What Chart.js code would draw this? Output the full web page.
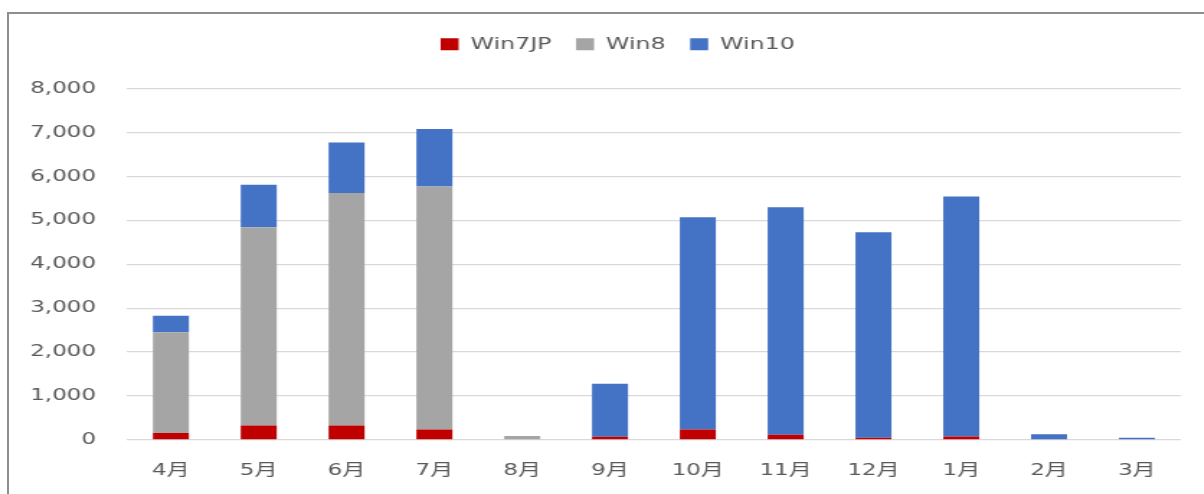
<!DOCTYPE html>
<html>
<head>
<meta charset="utf-8">
<script src="https://cdn.jsdelivr.net/npm/chart.js@4"></script>
<style>
  html, body { margin: 0; padding: 0; background: #fff; overflow: hidden; }
  body { width: 1204px; height: 494px; position: relative; }
  #frame { position: absolute; left: 7px; top: 12px; width: 1400px; height: 700px;
           border-left: 2px solid #8e8e8e; border-top: 2px solid #8e8e8e; box-sizing: border-box; }
  #c { position: absolute; left: 0; top: 0; transform: scaleX(1.44); transform-origin: 0 0; }
</style>
</head>
<body>
<div id="frame"></div>
<canvas id="c" width="836" height="494" style="width:836px;height:494px"></canvas>
<script>
const categories = ['4月','5月','6月','7月','8月','9月','10月','11月','12月','1月','2月','3月'];
const seriesNames = ['Win7JP', 'Win8', 'Win10'];
const win7jp = [160, 330, 330, 240, 0, 75, 240, 120, 50, 80, 0, 0];
const win8   = [2290, 4510, 5290, 5530, 90, 0, 0, 0, 0, 0, 0, 0];
const win10  = [380, 970, 1150, 1310, 0, 1205, 4830, 5180, 4680, 5460, 130, 50];
const yTickValues = [0, 1000, 2000, 3000, 4000, 5000, 6000, 7000, 8000];

const FONT = "'DejaVu Sans', 'Noto Sans CJK JP', sans-serif";
const TEXT = '#595959';

const legendSpacer = {
  id: 'legendSpacer',
  beforeInit(chart) {
    const orig = chart.legend.fit;
    chart.legend.fit = function () {
      orig.call(chart.legend);
      this.height += 26;
    };
  },
  afterLayout(chart) {
    chart.legend.left += 19;
    chart.legend.right += 19;
  }
};

new Chart(document.getElementById('c'), {
  type: 'bar',
  data: {
    labels: categories,
    datasets: [
      { label: seriesNames[0], data: win7jp, backgroundColor: '#C00000' },
      { label: seriesNames[1], data: win8, backgroundColor: '#A5A5A5' },
      { label: seriesNames[2], data: win10, backgroundColor: '#4472C4' }
    ]
  },
  options: {
    responsive: false,
    animation: false,
    devicePixelRatio: 1,
    datasets: { bar: { categoryPercentage: 0.41, barPercentage: 1, borderWidth: 0 } },
    layout: { padding: { top: 19, left: 0, right: 16, bottom: 0 } },
    plugins: {
      tooltip: { enabled: false },
      legend: {
        position: 'top',
        align: 'center',
        labels: {
          color: TEXT,
          font: { family: FONT, size: 16.5 },
          boxWidth: 12.5,
          boxHeight: 12,
          padding: 17
        }
      }
    },
    scales: {
      x: {
        stacked: true,
        grid: { display: false, drawTicks: false },
        border: { display: false },
        ticks: { color: TEXT, font: { family: FONT, size: 16 }, padding: 21.4, maxRotation: 0, autoSkip: false },
        afterFit(scale) { scale.height = 54; }
      },
      y: {
        stacked: true,
        min: 0,
        max: 8000,
        afterBuildTicks(scale) { scale.ticks = yTickValues.map(v => ({ value: v })); },
        grid: { color: '#D9D9D9', lineWidth: 1.3, drawTicks: false },
        border: { display: false },
        ticks: {
          color: TEXT,
          font: { family: FONT, size: 16 },
          padding: 21.5,
          callback: (v) => Number(v).toLocaleString('en-US')
        },
        afterFit(scale) { scale.width = 88.2; }
      }
    }
  },
  plugins: [legendSpacer]
});
</script>
</body>
</html>
